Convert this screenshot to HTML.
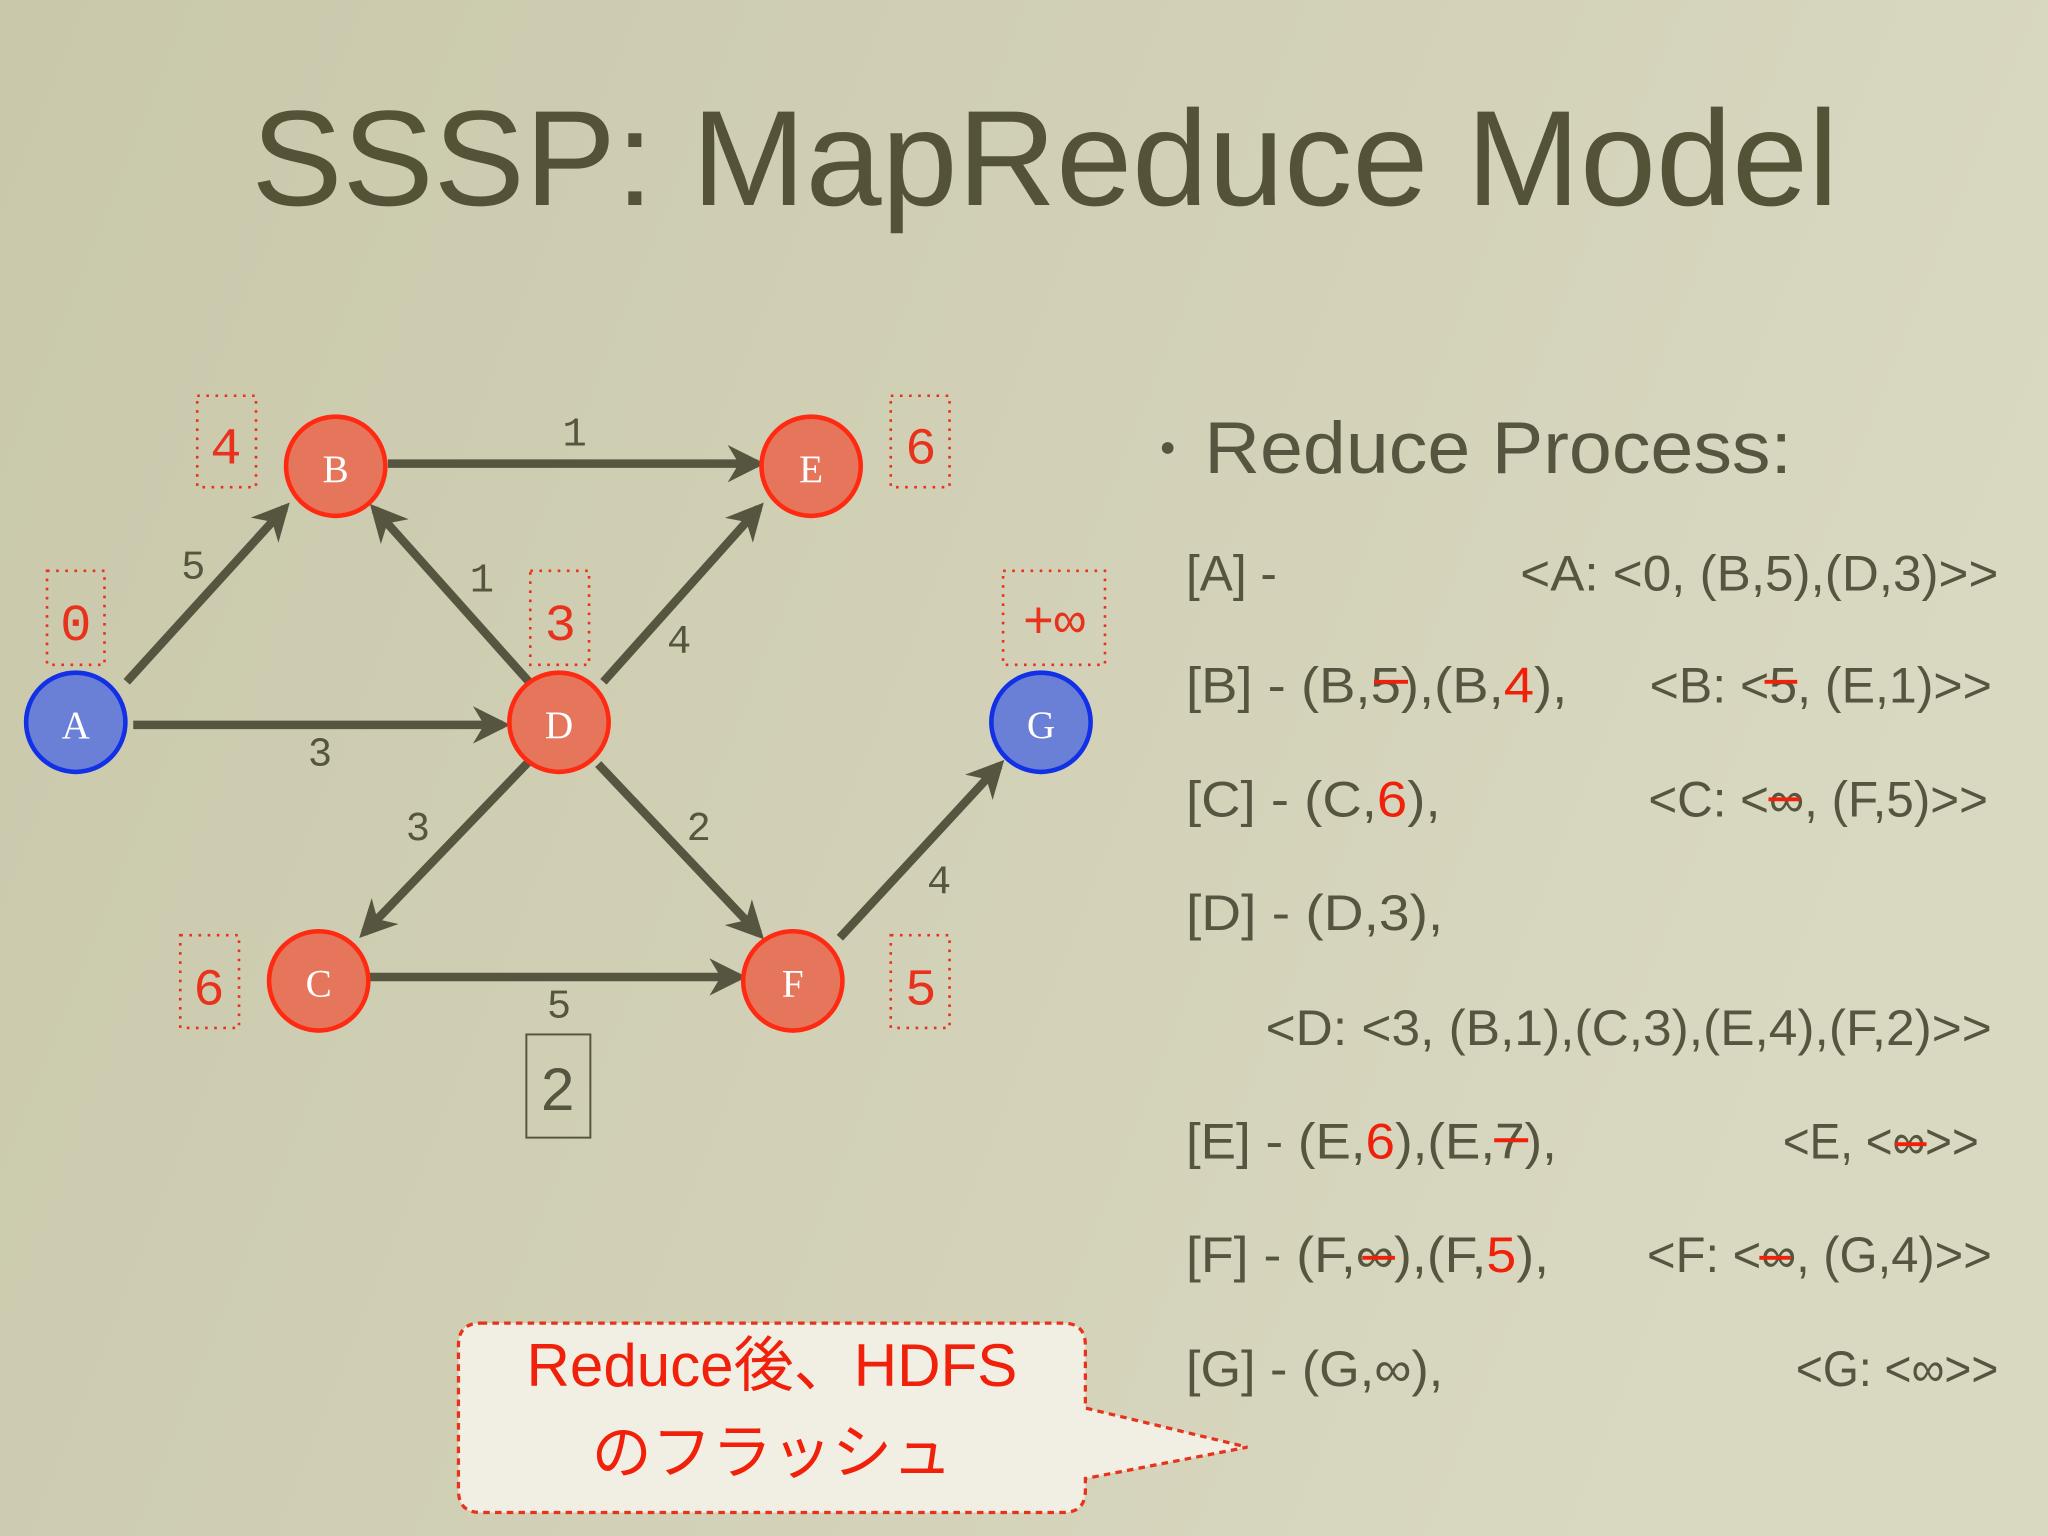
<!DOCTYPE html>
<html><head><meta charset="utf-8"><style>
html,body{margin:0;padding:0;width:2048px;height:1536px;overflow:hidden;background:#d2d0b4}
svg{display:block}
</style></head><body>
<svg width="2048" height="1536" viewBox="0 0 1568 1176" xmlns="http://www.w3.org/2000/svg">
<defs>
<linearGradient id="bg" x1="0" y1="0" x2="1" y2="0.3">
<stop offset="0" stop-color="#c9c8aa"/><stop offset="1" stop-color="#d9d8c1"/>
</linearGradient>
<marker id="ah" viewBox="0 0 10 10" refX="8" refY="5" markerWidth="4.4" markerHeight="4.4" orient="auto" markerUnits="strokeWidth">
<path d="M0,0 L10,5 L0,10 L3,5 z" fill="#56553f"/>
</marker>
</defs>
<rect width="1568" height="1176" fill="url(#bg)"/>
<text x="800" y="157" text-anchor="middle" font-family="Liberation Sans, sans-serif" font-size="104" fill="#545338" textLength="1215" lengthAdjust="spacingAndGlyphs">SSSP: MapReduce Model</text>

<g stroke="#56553f" stroke-width="6.5" marker-end="url(#ah)" fill="none">
<line x1="97" y1="522" x2="218" y2="389"/>
<line x1="102" y1="555" x2="385" y2="555"/>
<line x1="297" y1="355" x2="580" y2="355"/>
<line x1="405" y1="522" x2="287" y2="390"/>
<line x1="462" y1="522" x2="581" y2="389"/>
<line x1="405" y1="583" x2="279" y2="714"/>
<line x1="458" y1="585" x2="581" y2="715"/>
<line x1="283" y1="748" x2="566" y2="748"/>
<line x1="643" y1="718" x2="765" y2="586"/>
</g>

<g font-family="Liberation Mono, monospace" font-size="31" fill="#56553f" text-anchor="middle">
<text x="148" y="443">5</text><text x="440" y="341">1</text><text x="369" y="453">1</text>
<text x="520" y="500">4</text><text x="245" y="586">3</text><text x="320" y="643">3</text>
<text x="535" y="643">2</text><text x="719" y="684">4</text><text x="428" y="779">5</text>
</g>

<g stroke-width="3.5">
<circle cx="58" cy="553" r="38" fill="#6a7fd6" stroke="#1230e6"/>
<circle cx="797" cy="553" r="38" fill="#6a7fd6" stroke="#1230e6"/>
<circle cx="257" cy="357" r="38" fill="#e5765c" stroke="#ff2a12"/>
<circle cx="621" cy="357" r="38" fill="#e5765c" stroke="#ff2a12"/>
<circle cx="428" cy="553" r="38" fill="#e5765c" stroke="#ff2a12"/>
<circle cx="244" cy="751" r="38" fill="#e5765c" stroke="#ff2a12"/>
<circle cx="607" cy="751" r="38" fill="#e5765c" stroke="#ff2a12"/>
</g>
<g font-family="Liberation Serif, serif" font-size="30" fill="#fff" text-anchor="middle">
<text x="58" y="565">A</text><text x="797" y="565">G</text><text x="257" y="369">B</text>
<text x="621" y="369">E</text><text x="428" y="565">D</text><text x="244" y="763">C</text><text x="607" y="763">F</text>
</g>

<g fill="none" stroke="#e8321c" stroke-width="2" stroke-dasharray="2,5">
<rect x="151" y="303" width="45" height="70"/>
<rect x="36" y="437" width="44" height="72"/>
<rect x="406" y="437" width="45" height="72"/>
<rect x="682" y="303" width="45" height="70"/>
<rect x="768" y="437" width="78" height="72"/>
<rect x="138" y="716" width="45" height="71"/>
<rect x="682" y="716" width="45" height="71"/>
</g>
<g font-family="Liberation Mono, monospace" font-size="40" fill="#e8321c" text-anchor="middle">
<text x="173" y="355">4</text><text x="58" y="490">0</text><text x="429" y="490">3</text>
<text x="705" y="355">6</text><text x="807" y="488">+∞</text><text x="160" y="769">6</text><text x="705" y="769">5</text>
</g>

<rect x="403" y="792" width="49" height="79" fill="none" stroke="#56553f" stroke-width="1.5"/>
<text x="427" y="850" text-anchor="middle" font-family="Liberation Sans, sans-serif" font-size="46" fill="#56553f">2</text>

<g font-family="Liberation Sans, sans-serif" fill="#56553f">
<circle cx="894" cy="343" r="4.5"/>
<text x="922" y="362" font-size="56" textLength="450" lengthAdjust="spacingAndGlyphs">Reduce Process:</text>
<g font-size="38">
<text x="908" y="452">[A] -</text>
<text x="1530" y="452" text-anchor="end" textLength="366" lengthAdjust="spacingAndGlyphs">&lt;A: &lt;0, (B,5),(D,3)&gt;&gt;</text>
<text x="908" y="538" textLength="292" lengthAdjust="spacingAndGlyphs">[B] - (B,5),(B,<tspan fill="#f0200a">4</tspan>),</text>
<text x="1525" y="538" text-anchor="end" textLength="262" lengthAdjust="spacingAndGlyphs">&lt;B: &lt;5, (E,1)&gt;&gt;</text>
<text x="908" y="625" textLength="195" lengthAdjust="spacingAndGlyphs">[C] - (C,<tspan fill="#f0200a">6</tspan>),</text>
<text x="1522" y="625" text-anchor="end" textLength="260" lengthAdjust="spacingAndGlyphs">&lt;C: &lt;∞, (F,5)&gt;&gt;</text>
<text x="908" y="712" textLength="197" lengthAdjust="spacingAndGlyphs">[D] - (D,3),</text>
<text x="1525" y="800" text-anchor="end" textLength="556" lengthAdjust="spacingAndGlyphs">&lt;D: &lt;3, (B,1),(C,3),(E,4),(F,2)&gt;&gt;</text>
<text x="908" y="887" textLength="284" lengthAdjust="spacingAndGlyphs">[E] - (E,<tspan fill="#f0200a">6</tspan>),(E,7),</text>
<text x="1515" y="887" text-anchor="end" textLength="150" lengthAdjust="spacingAndGlyphs">&lt;E, &lt;∞&gt;&gt;</text>
<text x="908" y="974" textLength="278" lengthAdjust="spacingAndGlyphs">[F] - (F,∞),(F,<tspan fill="#f0200a">5</tspan>),</text>
<text x="1525" y="974" text-anchor="end" textLength="264" lengthAdjust="spacingAndGlyphs">&lt;F: &lt;∞, (G,4)&gt;&gt;</text>
<text x="908" y="1061" textLength="197" lengthAdjust="spacingAndGlyphs">[G] - (G,∞),</text>
<text x="1530" y="1061" text-anchor="end" textLength="155" lengthAdjust="spacingAndGlyphs">&lt;G: &lt;∞&gt;&gt;</text>
</g>
</g>
<g stroke="#f0200a" stroke-width="3">
<line x1="1052" y1="522" x2="1078" y2="522"/>
<line x1="1351" y1="522" x2="1376" y2="522"/>
<line x1="1354" y1="612" x2="1378" y2="612"/>
<line x1="1144" y1="873" x2="1170" y2="873"/>
<line x1="1451" y1="876" x2="1475" y2="876"/>
<line x1="1043" y1="963" x2="1068" y2="963"/>
<line x1="1347" y1="963" x2="1371" y2="963"/>
</g>

<path d="M368,1013 H814 Q831,1013 831,1030 V1078 L955,1108 L831,1132 V1141 Q831,1158 814,1158 H368 Q351,1158 351,1141 V1030 Q351,1013 368,1013 Z" fill="#f1efe3" stroke="#e8321c" stroke-width="2.5" stroke-dasharray="5,4"/>
<g font-family="Liberation Sans, 'Noto Sans CJK JP', sans-serif" font-size="46" fill="#f0200a" text-anchor="middle">
<text x="591" y="1061">Reduce後、HDFS</text>
<text x="591" y="1128">のフラッシュ</text>
</g>
</svg>
</body></html>
